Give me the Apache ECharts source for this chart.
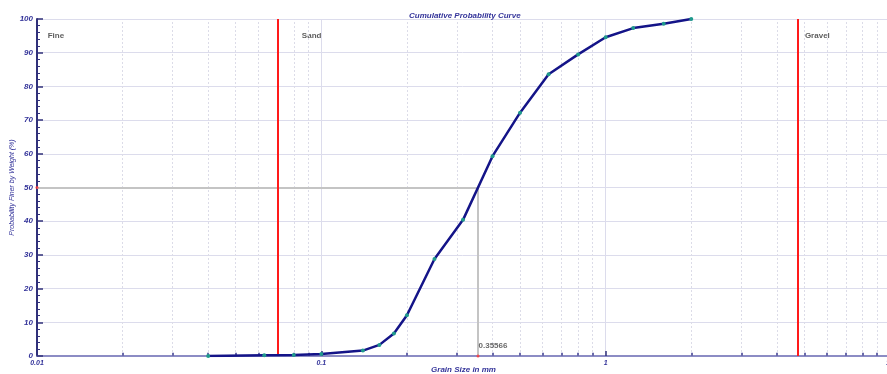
<!DOCTYPE html>
<html>
<head>
<meta charset="utf-8">
<script src="https://cdn.jsdelivr.net/npm/echarts@6/dist/echarts.min.js"></script>
<style>html,body{margin:0;padding:0;background:#fff}#c{width:887px;height:374px}</style>
</head>
<body>
<div id="c"></div>
<script>
// ---- data ----
const grainSize = [0.04, 0.063, 0.08, 0.1, 0.14, 0.16, 0.18, 0.2, 0.25, 0.315, 0.4, 0.5, 0.63, 0.8, 1, 1.25, 1.6, 2];
const percentFiner = [0, 0.2, 0.3, 0.6, 1.6, 3.3, 6.7, 12.1, 28.8, 40.4, 59.3, 72.2, 83.6, 89.5, 94.6, 97.3, 98.6, 100];
const zoneNames = ['Fine', 'Sand', 'Gravel'];
const zoneLabelX = [0.0109, 0.0854, 5.02];
const zoneLabelY = [95, 95, 95];
const boundaries = [0.075, 4.75];
const d50Size = 0.35566;
const d50Percent = 50;
const xMinorTicks = [0.02,0.03,0.04,0.05,0.06,0.07,0.08,0.09,0.2,0.3,0.4,0.5,0.6,0.7,0.8,0.9,2,3,4,5,6,7,8,9];
const titleText = 'Cumulative Probability Curve';
const xName = 'Grain Size in mm';
const yName = 'Probability Finer by Weight (%)';

const FONT = 'Liberation Sans, Arial, sans-serif';
const BLUE = '#34349a';

const chart = echarts.init(document.getElementById('c'), null, {renderer: 'canvas'});

const seriesData = grainSize.map((s, i) => [s, percentFiner[i]]);

const option = {
  animation: false,
  title: {
    text: titleText,
    left: 404, top: 7,
    textStyle: {fontFamily: FONT, fontSize: 8, fontWeight: 'bold', fontStyle: 'italic', color: BLUE}
  },
  grid: {left: 37, right: -3, top: 19, bottom: 18, containLabel: false, outerBoundsMode: 'none'},
  xAxis: {
    type: 'log', logBase: 10, min: 0.01, max: 10,
    name: xName, nameLocation: 'middle', nameGap: 10, nameMoveOverlap: false,
    nameTextStyle: {fontFamily: FONT, fontSize: 8, fontWeight: 'bold', fontStyle: 'italic', color: BLUE},
    axisLine: {show: true, lineStyle: {color: '#8c8cc4', width: 2}},
    axisTick: {show: true, inside: true, length: 5, lineStyle: {color: '#30307a', width: 1.5}},
    minorTick: {show: false},
    axisLabel: {fontFamily: FONT, fontSize: 7, fontWeight: 'bold', fontStyle: 'italic', color: BLUE, margin: 4,
      formatter: v => String(v)},
    splitLine: {show: true, lineStyle: {color: '#dcdcec', width: 1}}
  },
  yAxis: {
    type: 'value', min: 0, max: 100, interval: 10,
    name: yName, nameLocation: 'middle', nameGap: 21, nameMoveOverlap: false,
    nameTextStyle: {fontFamily: FONT, fontSize: 7, fontStyle: 'italic', color: BLUE},
    axisLine: {show: true, lineStyle: {color: '#30307a', width: 2}},
    axisTick: {show: true, inside: true, length: 6, lineStyle: {color: '#30307a', width: 1.5}},
    minorTick: {show: true, splitNumber: 5, length: 3, lineStyle: {color: '#30307a', width: 1}},
    axisLabel: {fontFamily: FONT, fontSize: 8, fontWeight: 'bold', fontStyle: 'italic', color: BLUE, margin: 4},
    splitLine: {show: true, lineStyle: {color: '#dcdcec', width: 1}}
  },
  series: [
    {
      type: 'line', data: [], silent: true, z: 1,
      markLine: {
        silent: true, symbol: ['none', 'none'], label: {show: false}, animation: false,
        data: xMinorTicks.map(v => ({xAxis: v, lineStyle: {color: '#dcdce8', width: 1, type: [2, 2]}}))
          .concat(xMinorTicks.map(v => [
            {coord: [v, 0], lineStyle: {color: '#6a6aaa', width: 2, type: 'solid'}},
            {coord: [v, 1]}
          ]))
      }
    },
    {
      type: 'line', data: [], silent: true, z: 2,
      markLine: {
        silent: true, symbol: ['none', 'none'], label: {show: false}, animation: false,
        lineStyle: {color: '#c4c4c4', width: 2, type: 'solid'},
        data: [
          [{coord: [0.01, d50Percent]}, {coord: [d50Size, d50Percent]}],
          [{coord: [d50Size, d50Percent]}, {coord: [d50Size, 0]}]
        ]
      }
    },
    {
      type: 'line', data: [], silent: true, z: 3,
      markLine: {
        silent: true, symbol: ['none', 'none'], label: {show: false}, animation: false,
        lineStyle: {color: '#ff1a1a', width: 2, type: 'solid'},
        data: boundaries.map(b => ({xAxis: b}))
      }
    },
    {
      type: 'scatter', silent: true, z: 4, symbolSize: 0,
      data: zoneNames.map((n, i) => ({value: [zoneLabelX[i], zoneLabelY[i]], name: n})),
      label: {show: true, position: 'right', distance: 0, formatter: p => p.name,
        fontFamily: FONT, fontSize: 8, fontWeight: 'bold', color: '#333'}
    },
    {
      type: 'scatter', silent: true, z: 6, symbolSize: 3,
      itemStyle: {color: '#ff3030'},
      data: [
        {value: [d50Size, 0], label: {show: true, position: 'right', distance: -1, offset: [0, -10],
          formatter: String(d50Size), fontFamily: FONT, fontSize: 8, fontWeight: 'bold', color: '#444'}},
        {value: [0.01, d50Percent]}
      ]
    },
    {
      type: 'line', z: 5, data: seriesData,
      symbol: 'circle', symbolSize: 4, showSymbol: true,
      lineStyle: {color: '#141488', width: 2.5},
      itemStyle: {color: '#1f9a8c'}
    }
  ]
};
chart.setOption(option);
</script>
</body>
</html>
